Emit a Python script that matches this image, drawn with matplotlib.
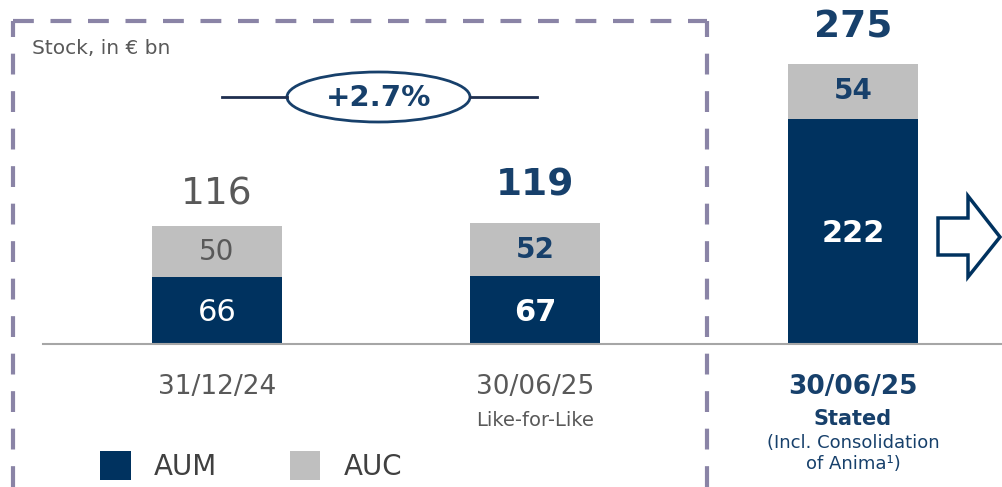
"""Stock of AUM / AUC, in EUR bn - stacked bars"""
import matplotlib
matplotlib.use('Agg')
import matplotlib.pyplot as plt
from matplotlib.patches import Ellipse, Polygon
from matplotlib.lines import Line2D

dates = ["31/12/24", "30/06/25", "30/06/25"]
subtitles = ["", "Like-for-Like", "Stated"]
aum = [66, 67, 222]
auc = [50, 52, 54]
totals = [116, 119, 275]
growth = "+2.7%"

NAVY = "#00325f"
GREY = "#bfbfbf"
TXT = "#595959"
DARK = "#17406b"
BOX = "#8a84a6"

plt.rcParams['font.family'] = ['DejaVu Sans']

W, H = 1002, 487
fig = plt.figure(figsize=(W / 100, H / 100), dpi=100)
ax = fig.add_axes([0, 0, 1, 1])
ax.axis('off')

# map: bar centres at 217, 535, 853 px; baseline at 344 px from top, 1.015 px per unit
step = 318.0
scale = 1.015
ax.set_xlim(-217 / step, 2 + (W - 853) / step)
ax.set_ylim(-(H - 344) / scale, 344 / scale)

x = [0, 1, 2]
width = 130 / step
ax.bar(x, aum, width, color=NAVY, label="AUM")
ax.bar(x, auc, width, bottom=aum, color=GREY, label="AUC")

def px(xp, yp):
    return (xp / W, 1 - yp / H)

tf = fig.transFigure

# segment values
for i in x:
    bold = i > 0
    w = 'bold' if bold else 'normal'
    ax.text(i, aum[i] / 2 - 2, str(aum[i]), ha='center', va='center', color='white',
            fontsize=22, fontweight=w)
    ax.text(i, aum[i] + auc[i] / 2, str(auc[i]), ha='center', va='center',
            color=DARK if bold else TXT, fontsize=20, fontweight=w)
    ax.text(i, totals[i] + (19 if bold else 14), str(totals[i]), ha='center', va='bottom',
            color=DARK if bold else TXT, fontsize=27, fontweight=w)

# baseline
fig.add_artist(Line2D([43 / W, 1], [1 - 344 / H] * 2, transform=tf, color="#a6a6a6", lw=1.5))

# category labels
ax.text(0, -42, dates[0], ha='center', va='center', color=TXT, fontsize=19)
ax.text(1, -42, dates[1], ha='center', va='center', color=TXT, fontsize=19)
ax.text(1, -75, subtitles[1], ha='center', va='center', color=TXT, fontsize=14)
ax.text(2, -42, dates[2], ha='center', va='center', color=DARK, fontsize=19, fontweight='bold')
ax.text(2, -74, subtitles[2], ha='center', va='center', color=DARK, fontsize=15, fontweight='bold')
ax.text(2, -108, "(Incl. Consolidation\nof Anima\u00b9)", ha='center', va='center', color=DARK,
        fontsize=13, linespacing=1.2)

# unit label
fig.text(*px(32, 48), "Stock, in \u20ac bn", ha='left', va='center', color=TXT, fontsize=14.5)

# growth bubble
fig.add_artist(Line2D([222 / W, 287 / W], [1 - 97 / H] * 2, transform=tf, color="#1f2f4f", lw=2))
fig.add_artist(Line2D([470 / W, 537 / W], [1 - 97 / H] * 2, transform=tf, color="#1f2f4f", lw=2))
fig.add_artist(Ellipse(px(378.5, 97), 183 / W, 50 / H, transform=tf, facecolor='white',
                       edgecolor=DARK, lw=2))
fig.text(*px(378.5, 98), growth, ha='center', va='center', color=DARK, fontsize=21, fontweight='bold')

# dashed frame
dash = dict(transform=tf, color=BOX, lw=3, linestyle=(0, (5, 4)))
fig.add_artist(Line2D([13 / W, 13 / W], [0, 1 - 21 / H], **dash))
fig.add_artist(Line2D([13 / W, 707 / W], [1 - 21 / H] * 2, **dash))
fig.add_artist(Line2D([707 / W, 707 / W], [0, 1 - 21 / H], **dash))

# arrow outline
arrow_pts = [(938, 218), (968, 218), (968, 196), (1000, 237), (968, 277), (968, 255), (938, 255)]
fig.add_artist(Polygon([px(a, b) for a, b in arrow_pts], closed=True, transform=tf,
                       facecolor='white', edgecolor=NAVY, lw=2.5))

# legend
leg = ax.legend(loc='lower left', bbox_to_anchor=(100 / W, 6 / H), ncol=2, frameon=False,
                fontsize=20, handlelength=1.1, handleheight=1.25, columnspacing=2.6,
                handletextpad=0.85, borderpad=0, borderaxespad=0, labelcolor="#404040")

fig.savefig('out.png', dpi=100)
